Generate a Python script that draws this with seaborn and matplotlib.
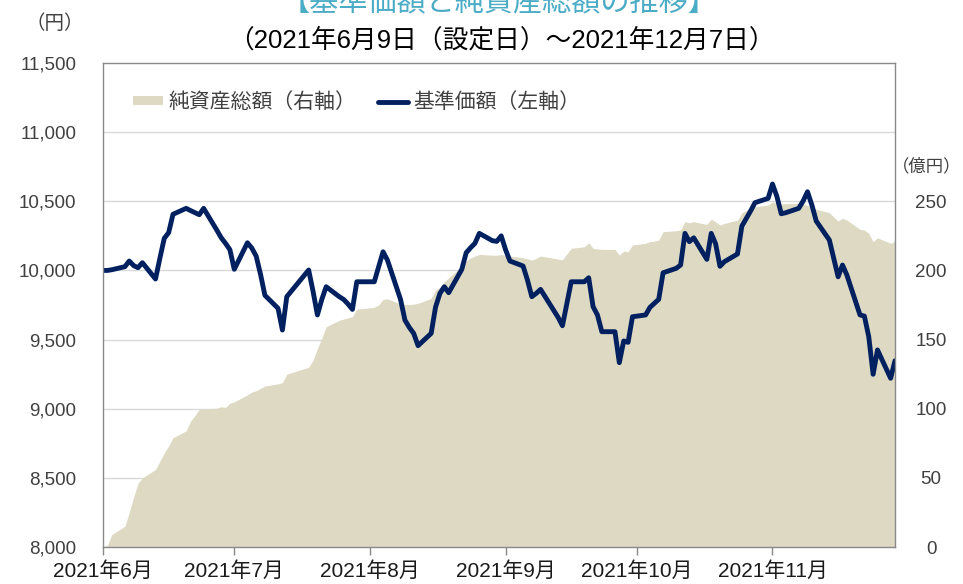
import numpy as np
import pandas as pd
import matplotlib
matplotlib.use("Agg")
import matplotlib.pyplot as plt
import seaborn as sns

# ---------------- data ----------------
holidays = ["2021-07-22", "2021-07-23", "2021-08-09", "2021-09-20",
            "2021-09-23", "2021-11-03", "2021-11-23"]
dates = pd.bdate_range("2021-06-09", "2021-12-07", freq="C", holidays=holidays)

# 基準価額（円）
nav = [
    10000, 10000, 10005, 10027, 10068, 10035, 10020, 10056, 9938, 10088, 10232, 10273, 10406, 10449, 10433, 10418,
    10403, 10449, 10292, 10237, 10196, 10150, 10008, 10200, 10162, 10104, 9972, 9820, 9726, 9569, 9810, 10003, 9850, 9678, 9790, 9882,
    9810, 9790, 9757, 9718, 9918, 9918, 10027, 10135, 10075, 9790, 9641, 9588, 9545, 9456, 9545, 9735, 9834, 9882, 9839, 10008, 10128,
    10164, 10196, 10268, 10215, 10210, 10250, 10150, 10068, 10032, 9931, 9810, 9834, 9863, 9661, 9600, 9918, 9918, 9947, 9738, 9678,
    9557, 9557, 9333, 9490, 9480, 9665, 9678, 9733, 9762, 9791, 9983, 10015, 10039, 10268, 10208, 10236, 10080, 10268, 10193, 10030, 10063,
    10119, 10320, 10430, 10490, 10521, 10625, 10536, 10410, 10417, 10449, 10502, 10569, 10473, 10357, 10220, 9954, 10039, 9967, 9678, 9670,
    9521, 9249, 9425, 9220, 9347,
]

# 純資産総額（億円）
aum = [
    0, 1, 9, 15, 25, 36, 46, 50, 56, 62, 68, 73, 79, 84, 91, 95,
    99.6, 100, 100.3, 101.4, 101, 104, 105, 110, 112, 113, 114.7, 116.4, 118, 118.8, 125, 130, 135, 143.7, 151, 159.3,
    164, 164.8, 165.7, 166.5, 172, 173.3, 175, 179, 179.5, 175.7, 175.4, 175.4, 175.6, 176.2, 179.8, 185.8, 187.8, 191.8, 194.7, 203, 206.8,
    209, 210.4, 211.6, 211, 211, 211.5, 211, 210.4, 209.2, 208.4, 207.5, 208.7, 210.4, 208.2, 207.7, 216, 217.1, 220, 216, 215.5,
    215.2, 215.2, 211.1, 214, 213.5, 218.4, 219.6, 220.8, 221.2, 222, 228, 228.7, 229.2, 235.2, 234.5, 235.2, 233.3, 237, 235.2, 232.8, 234,
    236.4, 241.7, 244.9, 246, 247.3, 249.7, 248.5, 248, 248.3, 248.5, 248, 247, 246, 244.2, 241.7, 235.7, 237.7, 236.4, 229.7, 229.2,
    226.8, 220.8, 223.6, 219.6, 221.2,
]

month_ticks = ["2021-06-09", "2021-07-09", "2021-08-09", "2021-09-09", "2021-10-09", "2021-11-09"]
month_labels = ["2021年6月", "2021年7月", "2021年8月", "2021年9月", "2021年10月", "2021年11月"]
left_ticks = [8000, 8500, 9000, 9500, 10000, 10500, 11000, 11500]
left_labels = ["8,000", "8,500", "9,000", "9,500", "10,000", "10,500", "11,000", "11,500"]
right_ticks = [0, 50, 100, 150, 200, 250, 300]
right_labels = ["0", "50", "100", "150", "200", "250", ""]

title = "【基準価額と純資産総額の推移】"
subtitle = "（2021年6月9日（設定日）～2021年12月7日）"
area_label = "純資産総額（右軸）"
line_label = "基準価額（左軸）"

# ---------------- style ----------------
sns.set_theme(style="white")
plt.rcParams["font.family"] = ["Liberation Sans", "Noto Sans CJK JP"]

NAVY = "#002060"
TAN = "#DDD9C3"
SPINE = "#898989"
GRID = "#D9D9D9"
TXT = "#404040"

df = pd.DataFrame({"date": dates, "nav": nav, "aum": aum})

fig = plt.figure(figsize=(9.63, 5.84), dpi=100)
W, H = 963, 584
ax = fig.add_axes([103 / W, (H - 547) / H, 792 / W, 484 / H])
ax2 = ax.twinx()
ax.set_zorder(ax2.get_zorder() + 1)
ax.patch.set_visible(False)

# area (right axis)
poly = ax2.fill_between(df["date"], 0, df["aum"], color=TAN, lw=0, zorder=1)
ax2.set_ylim(0, 350)
ax2.set_yticks(right_ticks)
ax2.set_yticklabels(right_labels)
ax2.yaxis.grid(True, color=GRID, lw=1)
ax2.set_axisbelow(True)
ax2.tick_params(axis="y", length=0, pad=26, labelsize=13.5, labelcolor=TXT)
for lbl in ax2.get_yticklabels():
    lbl.set_ha("center")
for s in ax2.spines.values():
    s.set_visible(False)
ax2.set_ylabel("")

# line (left axis)
sns.lineplot(data=df, x="date", y="nav", ax=ax, color=NAVY, lw=3.5, legend=False)
line = ax.lines[0]
ax.set_ylim(8000, 11500)
ax.set_yticks(left_ticks)
ax.set_yticklabels(left_labels)
ax.tick_params(axis="y", length=0, pad=19, labelsize=13.5, labelcolor=TXT)
ax.set_xlim(pd.Timestamp("2021-06-09"), pd.Timestamp("2021-12-07"))
ax.set_xticks(pd.to_datetime(month_ticks))
ax.set_xticklabels(month_labels)
ax.tick_params(axis="x", length=6, width=1, color=SPINE, direction="out",
               pad=4.5, labelsize=15, labelcolor="#1a1a1a", bottom=True)
ax.set_xlabel("")
ax.set_ylabel("")
ax.grid(False)
for s in ax.spines.values():
    s.set_visible(True)
    s.set_color(SPINE)
    s.set_linewidth(1)

# legend
ax.legend([poly, line], [area_label, line_label], loc="center left",
          bbox_to_anchor=(0.038, 0.919), ncol=2, frameon=False, fontsize=15,
          handlelength=1.45, handleheight=0.3, handletextpad=0.25,
          columnspacing=1.05, labelcolor=TXT, borderaxespad=0, borderpad=0)

# titles and unit labels
fig.text(499 / W, 1 - 2 / H, title, ha="center", va="center", fontsize=21, color="#4BACC6")
fig.text(501 / W, 1 - 40 / H, subtitle, ha="center", va="center", fontsize=18.5, color="#000000")
fig.text(55 / W, 1 - 24 / H, "（円）", ha="center", va="center", fontsize=14, color=TXT)
fig.text(927 / W, 1 - 166 / H, "（億円）", ha="center", va="center", fontsize=12.5, color=TXT)

fig.savefig("out.png", dpi=100)
